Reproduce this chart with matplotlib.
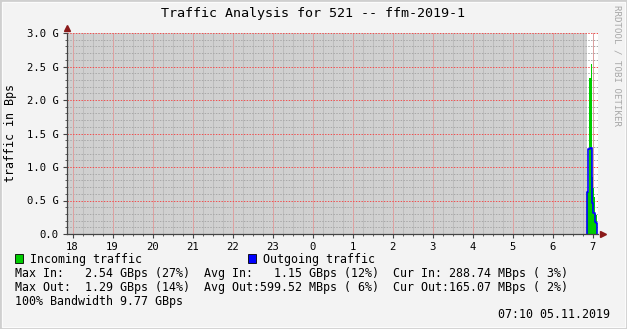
import numpy as np
import matplotlib.pyplot as plt
from matplotlib.patches import Rectangle
from matplotlib.ticker import MultipleLocator

# Time axis in hours (18 = 18:00, 24 = 0:00 next day, 31.14 = ~07:08)
t_start = 17.8625
t_end = 31.1375
unknown_end = 30.86  # gray "no data" area ends here

# Samples near the end (1.5 min each), values in GBps
sample_t = [30.86, 30.885, 30.91, 30.935, 30.96, 30.985, 31.01, 31.035, 31.06, 31.085, 31.11]
in_vals = [0.62, 0.62, 2.33, 2.33, 2.54, 0.85, 0.69, 0.55, 0.30, 0.29, 0.0]
out_vals = [0.63, 1.27, 1.27, 1.29, 1.29, 0.46, 0.31, 0.31, 0.18, 0.17, 0.0]

hour_ticks = list(range(18, 32))
hour_labels = ['18', '19', '20', '21', '22', '23', '0', '1', '2', '3', '4', '5', '6', '7']
y_ticks = [0.0, 0.5, 1.0, 1.5, 2.0, 2.5, 3.0]
y_labels = ['0.0', '0.5 G', '1.0 G', '1.5 G', '2.0 G', '2.5 G', '3.0 G']

legend_lines = [
    "Max In:   2.54 GBps (27%)  Avg In:   1.15 GBps (12%)  Cur In: 288.74 MBps ( 3%)",
    "Max Out:  1.29 GBps (14%)  Avg Out:599.52 MBps ( 6%)  Cur Out:165.07 MBps ( 2%)",
    "100% Bandwidth 9.77 GBps",
]

W, H = 627, 329
mono = 'DejaVu Sans Mono'

fig = plt.figure(figsize=(W / 100, H / 100), dpi=100, facecolor='#f3f3f3')

# 3D-ish frame
fig.patches.append(Rectangle((0, 0), 1, 1, transform=fig.transFigure, fill=False,
                             edgecolor='#cfcfcf', lw=2))
fig.patches.append(Rectangle((2 / W, 2 / H), 1 - 4 / W, 1 - 4 / H, transform=fig.transFigure,
                             fill=False, edgecolor='#fbfbfb', lw=0.8))

x0, x1, ytop, ybot = 67, 598, 33, 234
ax = fig.add_axes([x0 / W, (H - ybot) / H, (x1 - x0) / W, (ybot - ytop) / H])
ax.set_facecolor('white')
ax.set_xlim(t_start, t_end)
ax.set_ylim(0, 3.0)

ax.axvspan(t_start, unknown_end, color='#d0d0d0', zorder=0.5, lw=0)

# grid: minor gray, major red drawn on top
ax.xaxis.set_minor_locator(MultipleLocator(0.25))
ax.yaxis.set_minor_locator(MultipleLocator(0.1))
ax.set_xticks(hour_ticks)
ax.set_xticklabels(hour_labels, family=mono, fontsize=7.6)
ax.set_yticks(y_ticks)
ax.set_yticklabels(y_labels, family=mono, fontsize=7.6)
dots = (0, (1.4, 1.4))
# vertical lines as light solid lines (dotted verticals render too dark)
for h in np.arange(18, 31.2, 0.25):
    if abs(h - round(h)) > 0.01:
        ax.axvline(h, color='#bcbcbc', lw=0.72, zorder=1)
for v in np.arange(0.1, 3.0, 0.1):
    if abs(v * 2 - round(v * 2)) > 0.01:
        ax.axhline(v, color='#a8a8a8', ls=dots, lw=0.72, zorder=1)
for h in hour_ticks:
    ax.axvline(h, color='#dca0a0', lw=0.72, zorder=1.2)
for v in y_ticks[1:]:
    ax.axhline(v, color='#f05050', ls=dots, lw=0.72, zorder=1.2)

# data
ax.fill_between(sample_t, 0, in_vals, step='post', color='#00cc00', lw=0, zorder=2)
ax.step([sample_t[0]] + sample_t, [0] + out_vals, where='post', color='#0000ff', lw=1.2, zorder=3)

for s in ['top', 'right']:
    ax.spines[s].set_visible(False)
for s in ['left', 'bottom']:
    ax.spines[s].set_color('#444444')
    ax.spines[s].set_linewidth(0.9)
    ax.spines[s].set_zorder(4)
ax.tick_params(which='major', length=3, color='#444444', pad=3, labelcolor='black')
ax.tick_params(which='minor', length=1.5, color='#444444')

# arrows
ax.plot([0], [1.025], marker='^', color='#8b1a1a', ms=4.5, transform=ax.transAxes, clip_on=False)
ax.plot([1.01], [0], marker='>', color='#8b1a1a', ms=4.5, transform=ax.transAxes, clip_on=False)

fig.text(313 / W, 1 - 13 / H, 'Traffic Analysis for 521 -- ffm-2019-1', family=mono,
         fontsize=9.6, ha='center', va='center')
fig.text(11 / W, 1 - 133 / H, 'traffic in Bps', family=mono, fontsize=8.4,
         rotation=90, ha='center', va='center')
fig.text(617 / W, 1 - 5 / H, 'RRDTOOL / TOBI OETIKER', family=mono, fontsize=6.6,
         rotation=270, ha='center', va='top', color='#a8a8a8')

# legend
fig.patches.append(Rectangle((15 / W, 1 - 263 / H), 8 / W, 9 / H, transform=fig.transFigure,
                             facecolor='#00cc00', edgecolor='black', lw=0.6))
fig.text(30 / W, 1 - 259 / H, 'Incoming traffic', family=mono, fontsize=8.4, va='center')
fig.patches.append(Rectangle((248 / W, 1 - 263 / H), 8 / W, 9 / H, transform=fig.transFigure,
                             facecolor='#0000ff', edgecolor='black', lw=0.6))
fig.text(263 / W, 1 - 259 / H, 'Outgoing traffic', family=mono, fontsize=8.4, va='center')
for i, line in enumerate(legend_lines):
    fig.text(15 / W, 1 - (273 + 14 * i) / H, line, family=mono, fontsize=8.4, va='center')
fig.text(610 / W, 1 - 315 / H, '07:10 05.11.2019', family=mono, fontsize=8.4,
         va='center', ha='right')

fig.savefig('out.png', dpi=100, facecolor=fig.get_facecolor())
